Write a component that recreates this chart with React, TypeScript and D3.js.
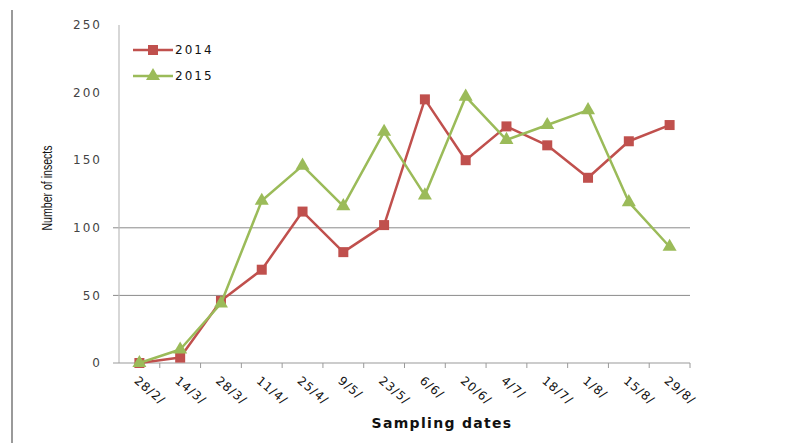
import React from 'react';
import * as d3 from 'd3';

const dates = ['28/2/', '14/3/', '28/3/', '11/4/', '25/4/', '9/5/', '23/5/', '6/6/', '20/6/', '4/7/', '18/7/', '1/8/', '15/8/', '29/8/'];
const y2014 = [0, 4, 46, 69, 112, 82, 102, 195, 150, 175, 161, 137, 164, 176];
const y2015 = [0, 10, 44, 120, 146, 116, 171, 124, 197, 165, 176, 187, 119, 86];
const yTicks = [0, 50, 100, 150, 200, 250];
const gridTicks = [50, 100];

const W = 811;
const H = 443;
const RED = '#C0504D';
const GREEN = '#9BBB59';

const App: React.FC = () => {
  const svgRef = React.useRef<SVGSVGElement | null>(null);

  React.useEffect(() => {
    const svg = d3.select(svgRef.current);
    svg.selectAll('*').remove();

    const left = 119;
    const right = 690;
    const top = 25;
    const bottom = 363;

    const x = d3.scaleBand<string>().domain(dates).range([left, right]);
    const y = d3.scaleLinear().domain([0, 250]).range([bottom, top]);
    const cx = (d: string) => (x(d) || 0) + x.bandwidth() / 2;

    // left frame line
    svg.append('line')
      .attr('x1', 12).attr('x2', 12).attr('y1', 10).attr('y2', H)
      .attr('stroke', '#9a9a9a').attr('stroke-width', 2);

    // gridlines
    svg.append('g').selectAll('line').data(gridTicks).join('line')
      .attr('x1', left - 6).attr('x2', right)
      .attr('y1', (d) => y(d)).attr('y2', (d) => y(d))
      .attr('stroke', '#8a8a8a').attr('stroke-width', 1);

    // y axis
    svg.append('line')
      .attr('x1', left).attr('x2', left).attr('y1', top).attr('y2', bottom)
      .attr('stroke', '#bdbdbd').attr('stroke-width', 1.2);
    svg.append('line')
      .attr('x1', left - 6).attr('x2', left).attr('y1', bottom).attr('y2', bottom)
      .attr('stroke', '#9a9a9a');

    svg.append('g').selectAll('text').data(yTicks).join('text')
      .attr('x', 102).attr('y', (d) => y(d))
      .attr('dy', '0.35em')
      .attr('text-anchor', 'end')
      .attr('font-family', 'DejaVu Sans')
      .attr('font-size', 12)
      .attr('letter-spacing', 2)
      .attr('fill', '#444')
      .text((d) => String(d));

    // x axis
    svg.append('line')
      .attr('x1', left).attr('x2', right).attr('y1', bottom).attr('y2', bottom)
      .attr('stroke', '#9a9a9a').attr('stroke-width', 1.2);
    const boundaries = dates.map((d) => (x(d) || 0) + x.bandwidth());
    svg.append('g').selectAll('line').data(boundaries).join('line')
      .attr('x1', (d) => d).attr('x2', (d) => d)
      .attr('y1', bottom).attr('y2', bottom + 5)
      .attr('stroke', '#9a9a9a');

    svg.append('g').selectAll('text').data(dates).join('text')
      .attr('transform', (d) => `translate(${cx(d) - 6},${bottom + 19}) rotate(40)`)
      .attr('font-family', 'DejaVu Sans')
      .attr('font-size', 12)
      .attr('letter-spacing', 1)
      .attr('fill', '#111')
      .text((d) => d);

    // axis titles
    svg.append('text')
      .attr('x', 442).attr('y', 428)
      .attr('text-anchor', 'middle')
      .attr('font-family', 'DejaVu Sans')
      .attr('font-weight', 'bold')
      .attr('font-size', 14)
      .attr('letter-spacing', 1.3)
      .attr('fill', '#111')
      .text('Sampling dates');

    svg.append('text')
      .attr('transform', `translate(52,188) rotate(-90)`)
      .attr('text-anchor', 'middle')
      .attr('font-family', 'Liberation Sans Narrow, Liberation Sans')
      .attr('font-size', 14)
      .attr('textLength', 85)
      .attr('lengthAdjust', 'spacingAndGlyphs')
      .attr('fill', '#111')
      .text('Number of insects');

    const line = d3.line<number>()
      .x((_, i) => cx(dates[i]))
      .y((d) => y(d));

    const tri = d3.symbol().type(d3.symbolTriangle).size(85);

    // 2014
    svg.append('path').datum(y2014).attr('d', line)
      .attr('fill', 'none').attr('stroke', RED).attr('stroke-width', 2.5)
      .attr('stroke-linejoin', 'round');
    svg.append('g').selectAll('rect').data(y2014).join('rect')
      .attr('x', (_, i) => cx(dates[i]) - 5)
      .attr('y', (d) => y(d) - 5)
      .attr('width', 10).attr('height', 10)
      .attr('fill', RED);

    // 2015
    svg.append('path').datum(y2015).attr('d', line)
      .attr('fill', 'none').attr('stroke', GREEN).attr('stroke-width', 2.5)
      .attr('stroke-linejoin', 'round');
    svg.append('g').selectAll('path').data(y2015).join('path')
      .attr('d', tri)
      .attr('transform', (d, i) => `translate(${cx(dates[i])},${y(d)})`)
      .attr('fill', GREEN);

    // legend
    const legend = svg.append('g');
    const items = [
      { label: '2014', color: RED, shape: 'square' },
      { label: '2015', color: GREEN, shape: 'triangle' },
    ];
    items.forEach((it, i) => {
      const ly = 50 + i * 26;
      legend.append('line')
        .attr('x1', 133).attr('x2', 173).attr('y1', ly).attr('y2', ly)
        .attr('stroke', it.color).attr('stroke-width', 2.5);
      if (it.shape === 'square') {
        legend.append('rect')
          .attr('x', 148).attr('y', ly - 5).attr('width', 10).attr('height', 10)
          .attr('fill', it.color);
      } else {
        legend.append('path').attr('d', tri)
          .attr('transform', `translate(153,${ly})`)
          .attr('fill', it.color);
      }
      legend.append('text')
        .attr('x', 175).attr('y', ly).attr('dy', '0.35em')
        .attr('font-family', 'DejaVu Sans')
        .attr('font-size', 12)
        .attr('letter-spacing', 2)
        .attr('fill', '#111')
        .text(it.label);
    });
  }, []);

  return (
    <svg
      ref={svgRef}
      width={W}
      height={H}
      style={{ position: 'absolute', left: 0, top: 0, background: '#fff' }}
    />
  );
};

export default App;
